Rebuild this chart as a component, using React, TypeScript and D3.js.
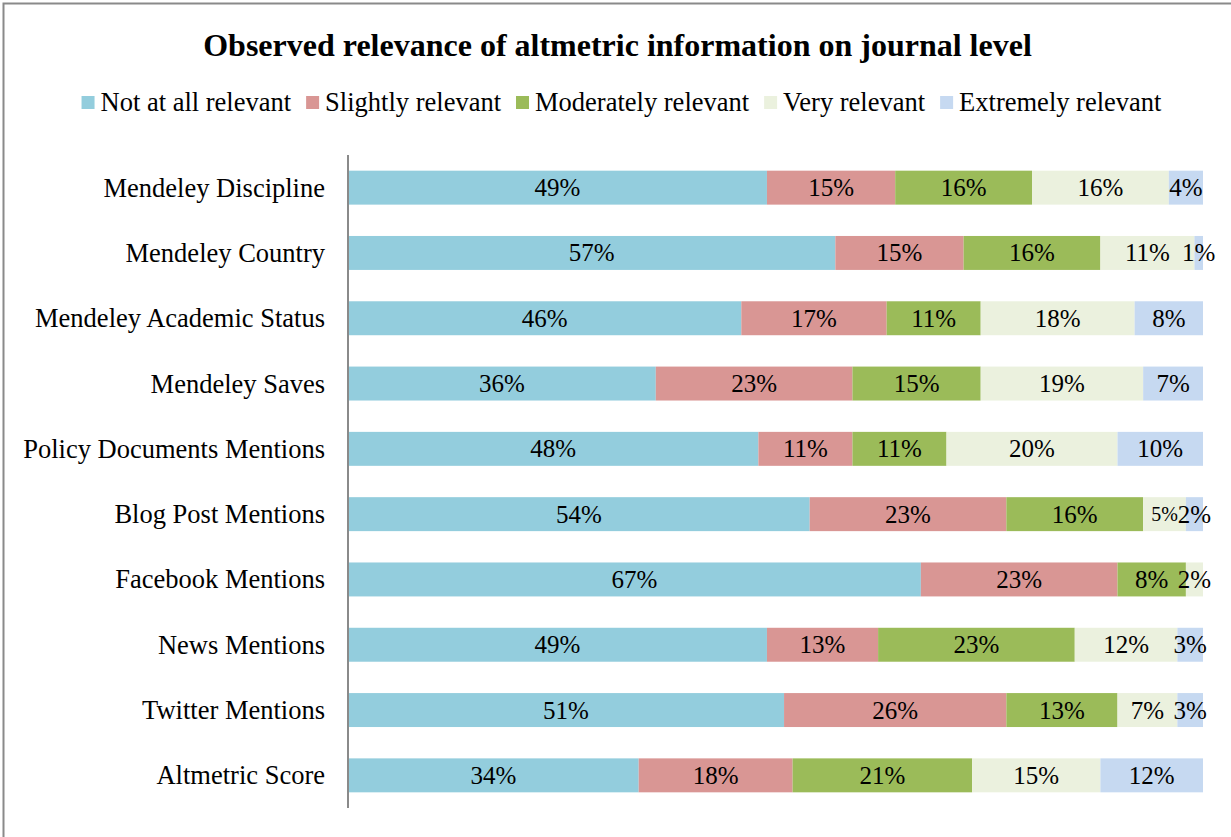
import React from "react";
import * as d3 from "d3";

const WIDTH = 1231;
const HEIGHT = 837;

const categories = [
  "Mendeley Discipline",
  "Mendeley Country",
  "Mendeley Academic Status",
  "Mendeley Saves",
  "Policy Documents Mentions",
  "Blog Post Mentions",
  "Facebook Mentions",
  "News Mentions",
  "Twitter Mentions",
  "Altmetric Score",
];

const seriesNames = [
  "Not at all relevant",
  "Slightly relevant",
  "Moderately relevant",
  "Very relevant",
  "Extremely relevant",
];

const notAtAll = [49, 57, 46, 36, 48, 54, 67, 49, 51, 34];
const slightly = [15, 15, 17, 23, 11, 23, 23, 13, 26, 18];
const moderately = [16, 16, 11, 15, 11, 16, 8, 23, 13, 21];
const very = [16, 11, 18, 19, 20, 5, 2, 12, 7, 15];
const extremely = [4, 1, 8, 7, 10, 2, 0, 3, 3, 12];

const seriesColors = ["#93CDDD", "#D99694", "#9BBB59", "#EBF1DE", "#C6D9F1"];

const FONT = "'Liberation Serif', 'Times New Roman', serif";

const measure = (text: string, size: number) => {
  const ctx = document.createElement("canvas").getContext("2d");
  if (!ctx) return text.length * size * 0.45;
  ctx.font = `${size}px ${FONT}`;
  return ctx.measureText(text).width;
};

export default function App() {
  const margin = { top: 155, right: 28, bottom: 29, left: 348 };

  const rows = categories.map((c, i) => ({
    category: c,
    values: [notAtAll[i], slightly[i], moderately[i], very[i], extremely[i]],
  }));

  const x = d3
    .scaleLinear()
    .domain([0, 100])
    .range([margin.left, WIDTH - margin.right]);

  const y = d3
    .scaleBand()
    .domain(categories)
    .range([margin.top, HEIGHT - margin.bottom])
    .paddingInner(0.48)
    .paddingOuter(0.24);

  // legend layout, centred like Excel does it
  const legendSize = 26.5;
  const markerSize = 13;
  const items = seriesNames.map((name) => measure(name, legendSize));
  const itemWidths = items.map((w) => markerSize + 6 + w + 15);
  const totalLegend = d3.sum(itemWidths) - 15;
  let lx = WIDTH / 2 + 6 - totalLegend / 2;
  const legendPos = itemWidths.map((w) => {
    const p = lx;
    lx += w;
    return p;
  });

  return (
    <svg
      width={WIDTH}
      height={HEIGHT}
      style={{ position: "absolute", left: 0, top: 0, background: "#fff" }}
      fontFamily={FONT}
    >
      <rect x={3.5} y={3.5} width={WIDTH + 20} height={HEIGHT + 20} fill="#fff" stroke="#8a8a8a" strokeWidth={2} />
      <text x={WIDTH / 2 + 2} y={56} textAnchor="middle" fontSize={32} fontWeight="bold">
        Observed relevance of altmetric information on journal level
      </text>

      <g>
        {seriesNames.map((name, i) => (
          <g key={name} transform={`translate(${legendPos[i]},0)`}>
            <rect x={0} y={96} width={markerSize} height={markerSize} fill={seriesColors[i]} />
            <text x={markerSize + 6} y={111} fontSize={legendSize}>
              {name}
            </text>
          </g>
        ))}
      </g>

      <g>
        {rows.map((r) => {
          let acc = 0;
          const y0 = y(r.category) as number;
          const bh = y.bandwidth();
          return (
            <g key={r.category}>
              {r.values.map((v, j) => {
                const start = acc;
                acc += v;
                if (!v) return null;
                const x0 = x(start);
                const x1 = x(start + v);
                const small = v <= 5 && j === 3 && r.values[4] > 0 && x1 - x0 < 45;
                return (
                  <g key={j}>
                    <rect x={x0} y={y0} width={x1 - x0} height={bh} fill={seriesColors[j]} />
                    <text
                      x={(x0 + x1) / 2}
                      y={y0 + bh / 2}
                      dy="0.34em"
                      textAnchor="middle"
                      fontSize={small ? 20 : 25}
                    >
                      {v}%
                    </text>
                  </g>
                );
              })}
              <text
                x={margin.left - 23}
                y={y0 + bh / 2}
                dy="0.34em"
                textAnchor="end"
                fontSize={26.5}
              >
                {r.category}
              </text>
            </g>
          );
        })}
      </g>

      <line
        x1={margin.left}
        x2={margin.left}
        y1={margin.top}
        y2={HEIGHT - margin.bottom}
        stroke="#8a8a8a"
        strokeWidth={2}
      />
    </svg>
  );
}
